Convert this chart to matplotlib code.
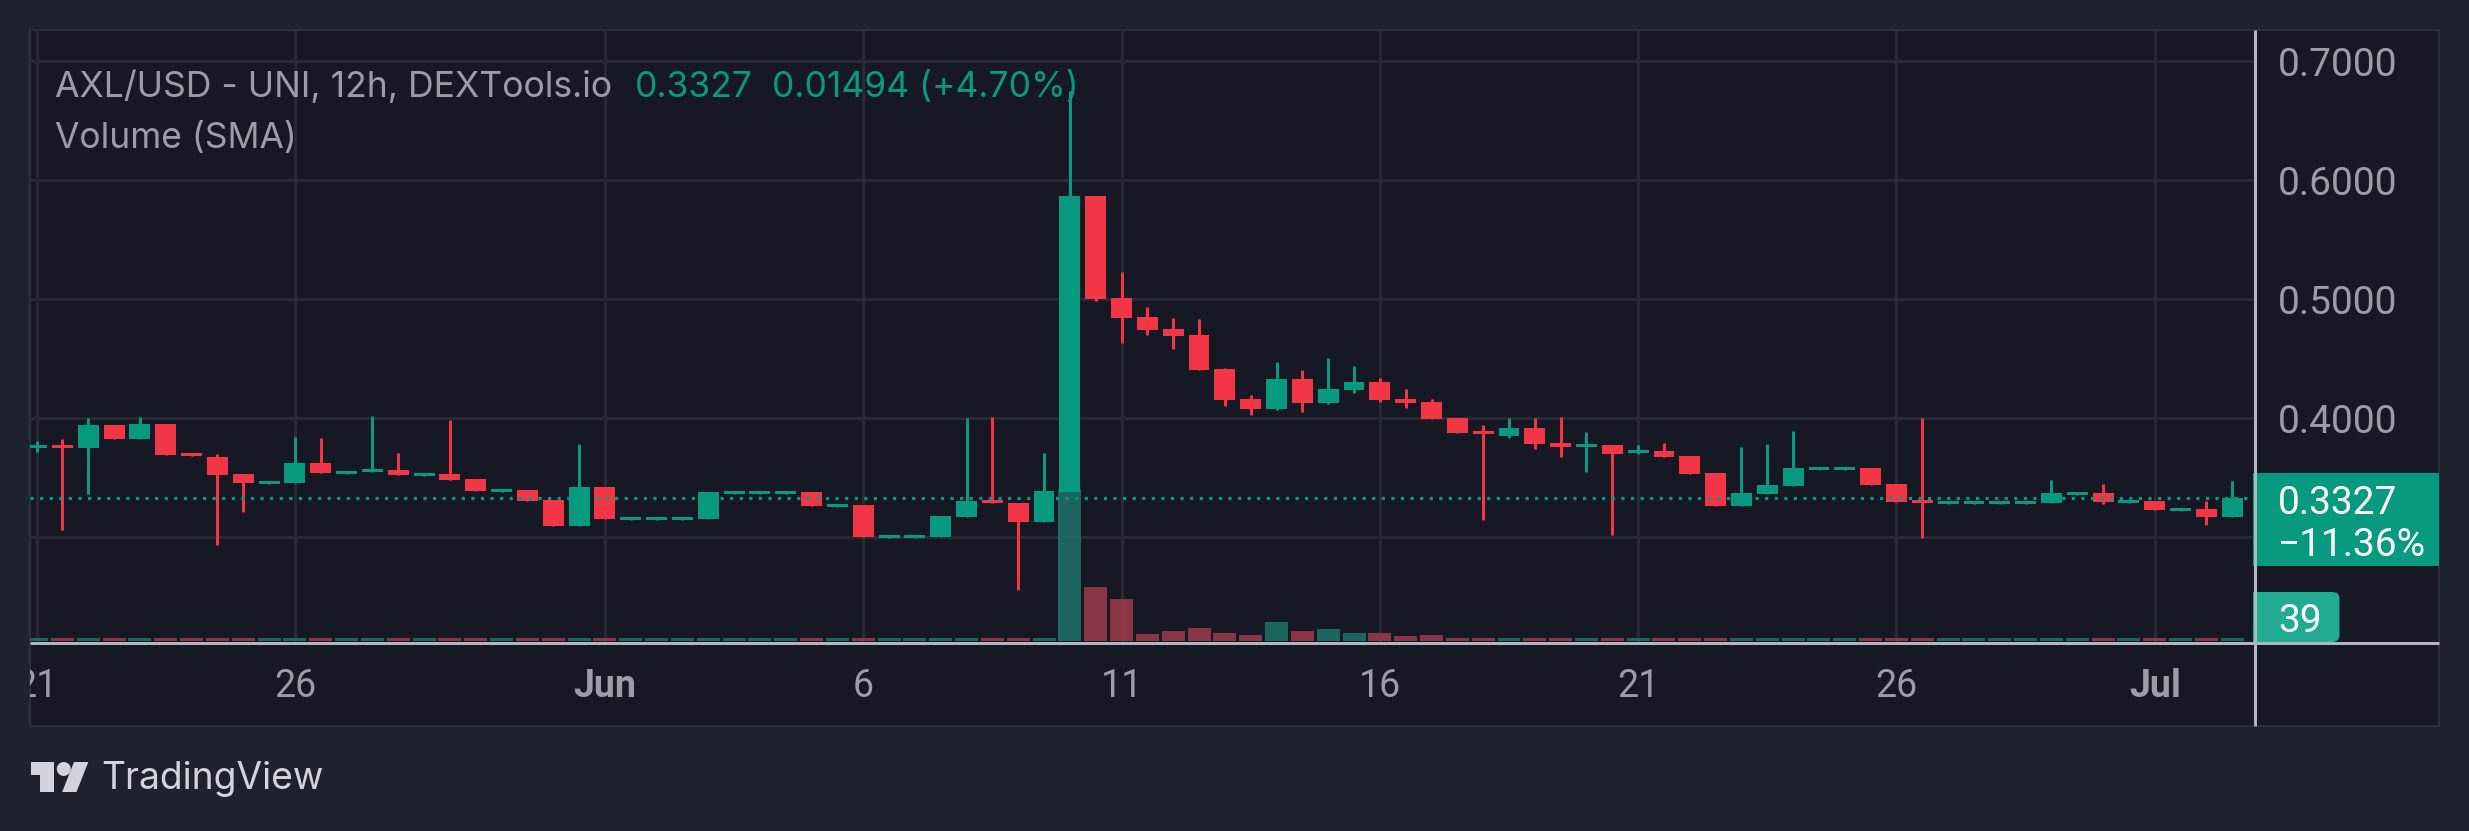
import numpy as np
import matplotlib
matplotlib.use('Agg')
import matplotlib.pyplot as plt
from matplotlib.patches import Rectangle, FancyBboxPatch, Polygon, Circle
from matplotlib.transforms import Bbox, IdentityTransform, TransformedBbox

plt.rcParams['font.family'] = ['Inter', 'DejaVu Sans']

# 12h candles
opens = [.3751, .3776, .3751, .3944, .3826, .3952, .3709, .3675, .3532, .3448,
         .3457, .3625, .3532, .3549, .3566, .3515, .3532, .3490, .3381, .3398,
         .3314, .3095, .3423, .3146, .3146, .3146, .3154, .3364, .3364, .3364,
         .3381, .3255, .3272, .2994, .2994, .3003, .3171, .3314, .3289, .3129,
         .3381, .5868, .5011, .4851, .4750, .4700, .4415, .4162, .4078, .4331,
         .4129, .4238, .4305, .4162, .4137, .4003, .3894, .3852, .3919, .3793,
         .3759, .3776, .3709, .3725, .3683, .3541, .3263, .3364, .3431, .3566,
         .3566, .3583, .3448, .3314, .3280, .3280, .3280, .3280, .3289, .3356,
         .3373, .3289, .3305, .3221, .3238, .3171]
closes = [.3776, .3751, .3944, .3826, .3952, .3692, .3683, .3524, .3457, .3473,
          .3625, .3541, .3557, .3574, .3524, .3541, .3482, .3389, .3406, .3305,
          .3095, .3423, .3154, .3171, .3171, .3171, .3381, .3389, .3389, .3389,
          .3263, .3280, .3003, .3020, .3020, .3179, .3305, .3289, .3129, .3389,
          .5868, .5003, .4843, .4742, .4692, .4406, .4154, .4078, .4331, .4129,
          .4246, .4305, .4154, .4129, .3994, .3877, .3868, .3919, .3784, .3759,
          .3784, .3700, .3734, .3675, .3532, .3263, .3373, .3440, .3583, .3591,
          .3591, .3440, .3297, .3289, .3305, .3305, .3305, .3305, .3373, .3381,
          .3297, .3314, .3230, .3246, .3171, .3327]
highs = [.3810, .3826, .4003, .3944, .4011, .3952, .3709, .3700, .3532, .3473,
         .3843, .3835, .3557, .4020, .3709, .3541, .3986, .3490, .3406, .3398,
         .3314, .3784, .3423, .3171, .3171, .3171, .3381, .3389, .3389, .3389,
         .3381, .3280, .3272, .3020, .3020, .3179, .4003, .4011, .3289, .3709,
         .6750, .5868, .5229, .4935, .4843, .4835, .4423, .4196, .4473, .4406,
         .4507, .4440, .4339, .4246, .4162, .4003, .3944, .4003, .4003, .4011,
         .3885, .3776, .3776, .3793, .3683, .3541, .3759, .3784, .3894, .3591,
         .3591, .3583, .3448, .4003, .3305, .3305, .3305, .3305, .3482, .3381,
         .3448, .3314, .3305, .3246, .3305, .3473]
lows = [.3717, .3062, .3364, .3826, .3826, .3692, .3683, .2936, .3213, .3448,
        .3457, .3541, .3532, .3549, .3524, .3515, .3482, .3389, .3381, .3305,
        .3095, .3095, .3154, .3146, .3146, .3146, .3154, .3364, .3364, .3364,
        .3263, .3255, .3003, .2994, .2994, .3003, .3171, .3289, .2557, .3129,
        .3381, .4986, .4633, .4700, .4582, .4406, .4104, .4028, .4070, .4053,
        .4120, .4213, .4137, .4087, .3994, .3877, .3146, .3835, .3742, .3675,
        .3549, .3020, .3700, .3675, .3532, .3263, .3263, .3364, .3431, .3566,
        .3566, .3440, .3297, .2994, .3280, .3280, .3280, .3280, .3289, .3356,
        .3280, .3289, .3230, .3221, .3104, .3171]
volumes = [39] * 40 + [1976, 702, 546, 91, 130, 169, 104, 78, 247, 130, 156,
                       104, 104, 65, 78] + [39] * 31

price_ticks = [0.3, 0.4, 0.5, 0.6, 0.7]
price_labels = ['', '0.4000', '0.5000', '0.6000', '0.7000']
date_ticks = [0, 10, 22, 32, 42, 52, 62, 72, 82]
date_labels = ['21', '26', 'Jun', '6', '11', '16', '21', '26', 'Jul']

UP = '#089981'
DOWN = '#F23645'
VOL_UP = '#1D7369'
VOL_DOWN = '#9E3B4A'
OUTER = '#1E222D'
PANE = '#161824'
GRID = '#272935'
BORDER = '#2A2E39'
AXIS = '#B2B5BE'
MUTED = '#9A9DA6'
NUM_FONT = ['Roboto', 'DejaVu Sans']

W, H = 2469, 831
fig = plt.figure(figsize=(W / 100, H / 100), dpi=100, facecolor=OUTER)


def rect(x0, y0, x1, y1):
    return [x0 / W, 1 - y1 / H, (x1 - x0) / W, (y1 - y0) / H]


# pixel-space layer for the frame, logo and price boxes
back = fig.add_axes([0, 0, 1, 1], zorder=0)
back.set_xlim(0, W)
back.set_ylim(H, 0)
back.axis('off')
back.add_patch(Rectangle((30, 30), 2409, 696, fc=PANE, ec=BORDER, lw=1.5))

ax = fig.add_axes(rect(30, 30, 2254.5, 643.3), zorder=1)
ax.patch.set_visible(False)
for s in ax.spines.values():
    s.set_visible(False)
ax.set_xlim(-0.2555, 85.86)
ax.set_ylim(0.2109, 0.7263)

x = np.arange(len(opens))
o = np.array(opens)
c = np.array(closes)
colors = [UP if b >= a else DOWN for a, b in zip(opens, closes)]
vol_colors = [VOL_UP if b >= a else VOL_DOWN for a, b in zip(opens, closes)]

ax.set_axisbelow(True)
ax.grid(True, color=GRID, lw=2.16)

# volume pane sits on the bottom of the price scale
vol_base = 0.2129
vol_scale = 6.464e-5
ax.bar(x, np.array(volumes) * vol_scale, bottom=vol_base, width=0.89,
       color=vol_colors, alpha=0.85, linewidth=0, zorder=1)

ax.vlines(x, lows, highs, colors=colors, lw=2.16, zorder=2)
ax.bar(x, np.abs(c - o), bottom=np.minimum(o, c), width=0.81, color=colors,
       linewidth=0, zorder=3)
ax.axhline(closes[-1], color=UP, lw=2.3, ls=(0, (1, 2)), zorder=4,
           dash_capstyle='butt')

ax.yaxis.tick_right()
ax.set_yticks(price_ticks)
ax.set_yticklabels(price_labels)
ax.set_xticks(date_ticks)
ax.set_xticklabels(date_labels)
ax.tick_params(axis='y', length=0, pad=16.5, labelsize=28, labelcolor=MUTED)
ax.tick_params(axis='x', length=0, pad=18, labelsize=27, labelcolor=MUTED)

clip = TransformedBbox(Bbox([[30, 0], [2254, H]]), IdentityTransform())
for lab in ax.get_xticklabels():
    lab.set_family(NUM_FONT)
    lab.set_clip_box(clip)
    lab.set_clip_on(True)
    if lab.get_text() in ('Jun', 'Jul'):
        lab.set_fontweight('bold')
for lab in ax.get_yticklabels():
    lab.set_family(NUM_FONT)
    lab.set_verticalalignment('center_baseline')

top = fig.add_axes([0, 0, 1, 1], zorder=2)
top.set_xlim(0, W)
top.set_ylim(H, 0)
top.axis('off')
top.plot([30, 2439], [643.3, 643.3], color=AXIS, lw=2.16, solid_capstyle='butt')
top.plot([2254.5, 2254.5], [30, 726], color=AXIS, lw=2.16, solid_capstyle='butt')

top.add_patch(Rectangle((2253, 473), 185.5, 93, fc=UP, ec='none'))
top.add_patch(Rectangle((2253, 592), 60, 50, fc='#22AB94', ec='none'))
top.add_patch(FancyBboxPatch((2253, 592), 86.5, 50,
                             boxstyle='round,pad=0,rounding_size=7',
                             fc='#22AB94', ec='none'))
top.text(2278, 499, '0.3327', color='white', fontsize=28,
         family=NUM_FONT, va='center_baseline')
top.text(2278, 541, '\u221211.36%', color='white', fontsize=28,
         family=NUM_FONT, va='center_baseline')
top.text(2278, 618, '39', color='white', fontsize=28,
         family=NUM_FONT, va='center_baseline')

top.text(55, 84, 'AXL/USD - UNI, 12h, DEXTools.io', color=MUTED, fontsize=25.6,
         va='center_baseline')
top.text(635, 84, '0.3327', color=UP, fontsize=25.5, va='center_baseline')
top.text(772, 84, '0.01494 (+4.70%)', color=UP, fontsize=25.5, va='center_baseline')
top.text(55, 135, 'Volume (SMA)', color=MUTED, fontsize=25.5, va='center_baseline')

# TradingView mark
LOGO = '#D1D4DC'
top.add_patch(Polygon([(30.6, 762), (53.6, 762), (53.6, 792), (40, 792),
                       (40, 775), (30.6, 775)], fc=LOGO, ec='none'))
top.add_patch(Circle((63.8, 769), 7, fc=LOGO, ec='none'))
top.add_patch(Polygon([(74, 762), (88.3, 762), (76.5, 792), (62.2, 792)],
                      fc=LOGO, ec='none'))
top.text(101, 775, 'TradingView', color=LOGO, fontsize=26.8, va='center_baseline')

fig.savefig('out.png', dpi=100, facecolor=OUTER)
